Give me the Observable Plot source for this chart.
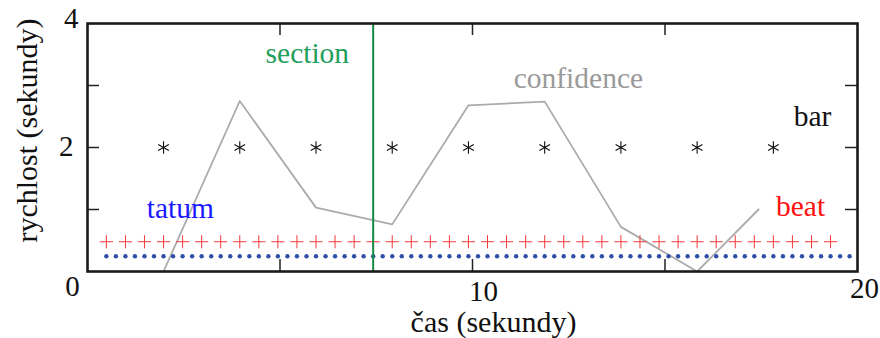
<!DOCTYPE html>
<html><head><meta charset="utf-8">
<script src="https://cdn.jsdelivr.net/npm/d3@7"></script>
<script src="https://cdn.jsdelivr.net/npm/@observablehq/plot@0.6"></script>
<style>body{margin:0;background:#fff}</style>
</head><body><div id="chart"></div>
<script>
// Data
const barTimes = [1.975, 3.955, 5.935, 7.915, 9.895, 11.875, 13.855, 15.835, 17.815];
const barLevel = 2;
const beatTimes = [0.49, 0.985, 1.48, 1.975, 2.47, 2.965, 3.46, 3.955, 4.45, 4.945, 5.44, 5.935, 6.43, 6.925, 7.42, 7.915, 8.41, 8.905, 9.4, 9.895, 10.39, 10.885, 11.38, 11.875, 12.37, 12.865, 13.36, 13.855, 14.35, 14.845, 15.34, 15.835, 16.33, 16.825, 17.32, 17.815, 18.31, 18.805, 19.3];
const beatLevel = 0.48;
const tatumTimes = [0.49, 0.738, 0.985, 1.233, 1.48, 1.728, 1.975, 2.223, 2.47, 2.718, 2.965, 3.213, 3.46, 3.708, 3.955, 4.203, 4.45, 4.698, 4.945, 5.193, 5.44, 5.688, 5.935, 6.183, 6.43, 6.678, 6.925, 7.173, 7.42, 7.668, 7.915, 8.163, 8.41, 8.658, 8.905, 9.153, 9.4, 9.648, 9.895, 10.143, 10.39, 10.638, 10.885, 11.133, 11.38, 11.628, 11.875, 12.123, 12.37, 12.618, 12.865, 13.113, 13.36, 13.608, 13.855, 14.103, 14.35, 14.598, 14.845, 15.093, 15.34, 15.588, 15.835, 16.083, 16.33, 16.578, 16.825, 17.073, 17.32, 17.568, 17.815, 18.063, 18.31, 18.558, 18.805, 19.053, 19.3, 19.548, 19.795];
const tatumLevel = 0.245;
const sectionTimes = [7.42];
const confidenceTimes = [1.975, 3.955, 5.935, 7.915, 9.895, 11.875, 13.855, 15.835, 17.43];
const confidenceValues = [0, 2.75, 1.03, 0.76, 2.68, 2.74, 0.72, 0, 1.0];

const seriesLabels = ["section", "confidence", "bar", "beat", "tatum"];
const labelX = [5.71, 12.75, 18.83, 18.52, 2.41];
const labelY = [3.52, 3.11, 2.5, 1.05, 1.02];
const labelColors = ["#1f9e5c", "#9a9a9a", "#111111", "#ff1010", "#1a1aff"];

const minorXTicks = [5, 10, 15];
const minorYTicks = [1, 2, 3];
const xTitle = "čas (sekundy)";
const yTitle = "rychlost (sekundy)";

const bars = barTimes.map(t => ({t, v: barLevel}));
const beats = beatTimes.map(t => ({t, v: beatLevel}));
const tatums = tatumTimes.map(t => ({t, v: tatumLevel}));
const confidence = confidenceTimes.map((t, i) => ({t, v: confidenceValues[i]}));
const labels = seriesLabels.map((s, i) => ({s, x: labelX[i], y: labelY[i], c: labelColors[i]}));

const fmt = d3.format("d");

const chart = Plot.plot({
  width: 880,
  height: 338,
  marginLeft: 87,
  marginRight: 23,
  marginTop: 23,
  marginBottom: 67,
  style: {fontFamily: "'Liberation Serif', serif", fontSize: "29px", color: "#111", background: "#fff"},
  x: {domain: [0, 20]},
  y: {domain: [0, 4]},
  marks: [
    // inward ticks on all four sides
    Plot.ruleX(minorXTicks, {insetTop: 236, stroke: "#222", strokeWidth: 1.5}),
    Plot.ruleX(minorXTicks, {insetBottom: 236, stroke: "#222", strokeWidth: 1.5}),
    Plot.ruleY(minorYTicks, {insetRight: 758, stroke: "#222", strokeWidth: 1.5}),
    Plot.ruleY(minorYTicks, {insetLeft: 758, stroke: "#222", strokeWidth: 1.5}),
    // tick labels
    Plot.axisX([0], {tickSize: 0, tickPadding: 4, dx: -15, label: null, tickFormat: fmt}),
    Plot.axisX([10], {tickSize: 0, tickPadding: 9, dx: 11, label: null, tickFormat: fmt}),
    Plot.axisX([20], {tickSize: 0, tickPadding: 6, dx: 7, label: null, tickFormat: fmt}),
    Plot.axisY([4], {tickSize: 0, tickPadding: 9, dy: -5, label: null, tickFormat: fmt}),
    Plot.axisY([2], {tickSize: 0, tickPadding: 14, dy: -1, label: null, tickFormat: fmt}),
    // axis titles
    Plot.text([xTitle], {frameAnchor: "bottom", dx: 21, dy: 51, lineAnchor: "middle", fill: "#111", fontSize: 30}),
    Plot.text([yTitle], {frameAnchor: "left", textAnchor: "middle", rotate: -90, dx: -60, dy: -17, lineAnchor: "middle", fill: "#111", fontSize: 30}),
    // data
    Plot.line(confidence, {x: "t", y: "v", stroke: "#ababab", strokeWidth: 1.8}),
    Plot.dot(tatums, {x: "t", y: "v", r: 2.2, fill: "#2f4fa6", stroke: null}),
    Plot.dot(beats, {x: "t", y: "v", symbol: "plus", r: 4.3, stroke: "#f23a3a", strokeWidth: 1}),
    Plot.dot(bars, {x: "t", y: "v", symbol: "asterisk", r: 5.8, stroke: "#111", strokeWidth: 1.1}),
    Plot.ruleX(sectionTimes, {stroke: "#148a44", strokeWidth: 2}),
    Plot.text(labels, {x: "x", y: "y", text: "s", fill: "c", lineAnchor: "middle", fontSize: 29.5}),
    Plot.frame({stroke: "#1a1a1a", strokeWidth: 2.6})
  ]
});
document.getElementById("chart").append(chart);
</script>
</body></html>
